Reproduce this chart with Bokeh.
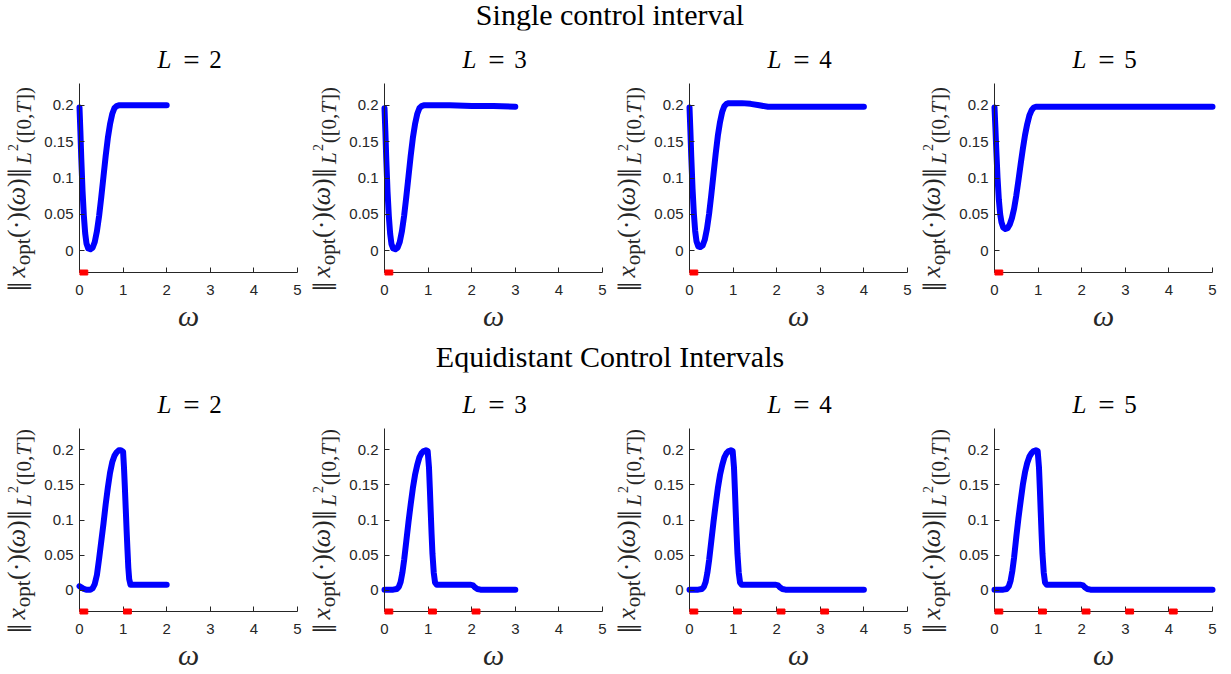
import math
from bokeh.plotting import figure
from bokeh.layouts import column, row
from bokeh.models import Range1d, FixedTicker, Label, Div
from bokeh.embed import file_html
from bokeh.resources import INLINE

# ---------------- data ----------------
L_VALUES = [2, 3, 4, 5]
ROW_TITLES = ["Single control interval", "Equidistant Control Intervals"]
X_TICKS = [0, 1, 2, 3, 4, 5]
Y_TICKS = [0, 0.05, 0.1, 0.15, 0.2]
Y_TICK_LABELS = ["0", "0.05", "0.1", "0.15", "0.2"]

# single control interval
single_w_L2 = [0, 0.02, 0.04, 0.07, 0.1, 0.13, 0.16, 0.2, 0.25, 0.3, 0.35, 0.4, 0.45, 0.5, 0.55,
               0.6, 0.65, 0.7, 0.75, 0.8, 0.85, 0.9, 0.95, 1.0, 1.5, 2.0]
single_v_L2 = [0.197, 0.165, 0.128, 0.082, 0.048, 0.024, 0.010, 0.003, 0.002, 0.004, 0.012, 0.027,
               0.048, 0.074, 0.102, 0.130, 0.155, 0.174, 0.188, 0.196, 0.199, 0.200, 0.200, 0.200,
               0.200, 0.200]
single_w_L3 = [0, 0.02, 0.04, 0.07, 0.1, 0.13, 0.16, 0.2, 0.25, 0.3, 0.35, 0.4, 0.45, 0.5, 0.55,
               0.6, 0.65, 0.7, 0.75, 0.8, 0.85, 0.9, 0.95, 1.0, 1.5, 2.0, 2.5, 3.0]
single_v_L3 = [0.196, 0.164, 0.127, 0.081, 0.047, 0.023, 0.009, 0.003, 0.002, 0.004, 0.012, 0.027,
               0.048, 0.074, 0.102, 0.130, 0.155, 0.174, 0.188, 0.196, 0.199, 0.200, 0.200, 0.200,
               0.200, 0.199, 0.199, 0.198]
single_w_L4 = [0, 0.02, 0.04, 0.07, 0.1, 0.13, 0.16, 0.2, 0.25, 0.3, 0.35, 0.4, 0.45, 0.5, 0.55,
               0.6, 0.65, 0.7, 0.75, 0.8, 0.85, 0.9, 1.0, 1.2, 1.4, 1.6, 1.8, 2.5, 3.0, 3.5, 4.0]
single_v_L4 = [0.197, 0.166, 0.130, 0.085, 0.051, 0.027, 0.013, 0.006, 0.005, 0.007, 0.015, 0.030,
               0.051, 0.077, 0.105, 0.133, 0.158, 0.177, 0.191, 0.199, 0.202, 0.203, 0.203, 0.203,
               0.202, 0.200, 0.198, 0.198, 0.198, 0.198, 0.198]
single_w_L5 = [0, 0.02, 0.04, 0.07, 0.1, 0.13, 0.16, 0.2, 0.25, 0.3, 0.35, 0.4, 0.45, 0.5, 0.55,
               0.6, 0.65, 0.7, 0.75, 0.8, 0.85, 0.9, 0.95, 1.0, 2.0, 3.0, 4.0, 5.0]
single_v_L5 = [0.197, 0.170, 0.140, 0.100, 0.070, 0.050, 0.039, 0.032, 0.030, 0.031, 0.036, 0.045,
               0.058, 0.076, 0.097, 0.119, 0.140, 0.159, 0.174, 0.186, 0.193, 0.197, 0.198, 0.198,
               0.198, 0.198, 0.198, 0.198]

# equidistant control intervals
equi_w_L2 = [0, 0.05, 0.1, 0.15, 0.2, 0.25, 0.3, 0.35, 0.4, 0.45, 0.5, 0.55, 0.6, 0.65, 0.7, 0.75,
             0.8, 0.85, 0.9, 0.95, 1.0, 1.02, 1.04, 1.06, 1.08, 1.1, 1.12, 1.14, 1.17, 1.5, 2.0]
equi_v_L2 = [0.006, 0.004, 0.002, 0.001, 0.001, 0.001, 0.003, 0.009, 0.022, 0.045, 0.070, 0.095,
             0.122, 0.146, 0.167, 0.182, 0.191, 0.196, 0.199, 0.199, 0.197, 0.175, 0.147, 0.117,
             0.086, 0.058, 0.032, 0.016, 0.008, 0.008, 0.008]
equi_w_L3 = [0, 0.1, 0.2, 0.28, 0.33, 0.37, 0.41, 0.45, 0.5, 0.55, 0.6, 0.65, 0.7, 0.75, 0.8, 0.85,
             0.9, 0.95, 0.99, 1.02, 1.04, 1.06, 1.08, 1.1, 1.13, 1.16, 1.2, 1.5, 1.98, 2.03, 2.08,
             2.13, 2.2, 2.5, 3.0]
equi_v_L3 = [0.001, 0.001, 0.001, 0.002, 0.005, 0.012, 0.025, 0.043, 0.070, 0.097, 0.122, 0.145,
             0.164, 0.178, 0.189, 0.195, 0.198, 0.199, 0.198, 0.175, 0.145, 0.112, 0.080, 0.052,
             0.025, 0.011, 0.008, 0.008, 0.008, 0.007, 0.004, 0.002, 0.001, 0.001, 0.001]
equi_w_L4 = [0, 0.1, 0.2, 0.28, 0.33, 0.37, 0.41, 0.45, 0.5, 0.55, 0.6, 0.65, 0.7, 0.75, 0.8, 0.85,
             0.9, 0.95, 0.99, 1.02, 1.04, 1.06, 1.08, 1.1, 1.13, 1.16, 1.2, 1.5, 1.98, 2.03, 2.08,
             2.13, 2.2, 3.0, 4.0]
equi_v_L4 = [0.001, 0.001, 0.001, 0.002, 0.005, 0.012, 0.025, 0.043, 0.070, 0.097, 0.122, 0.145,
             0.164, 0.178, 0.189, 0.195, 0.198, 0.199, 0.198, 0.175, 0.145, 0.112, 0.080, 0.052,
             0.025, 0.011, 0.008, 0.008, 0.008, 0.007, 0.004, 0.002, 0.001, 0.001, 0.001]
equi_w_L5 = [0, 0.1, 0.2, 0.28, 0.33, 0.37, 0.41, 0.45, 0.5, 0.55, 0.6, 0.65, 0.7, 0.75, 0.8, 0.85,
             0.9, 0.95, 0.99, 1.02, 1.04, 1.06, 1.08, 1.1, 1.13, 1.16, 1.2, 1.5, 1.98, 2.03, 2.08,
             2.13, 2.2, 3.0, 4.0, 5.0]
equi_v_L5 = [0.001, 0.001, 0.001, 0.002, 0.006, 0.014, 0.028, 0.047, 0.076, 0.103, 0.127, 0.150,
             0.168, 0.181, 0.190, 0.195, 0.198, 0.199, 0.198, 0.175, 0.145, 0.112, 0.080, 0.052,
             0.025, 0.011, 0.008, 0.008, 0.008, 0.007, 0.004, 0.002, 0.001, 0.001, 0.001, 0.001]

# control-interval markers (centres of the red marks on the axis)
single_marks = [0.1]
equi_marks = [0.1, 1.1, 2.1, 3.1, 4.1]

SINGLE = [(single_w_L2, single_v_L2), (single_w_L3, single_v_L3),
          (single_w_L4, single_v_L4), (single_w_L5, single_v_L5)]
EQUI = [(equi_w_L2, equi_v_L2), (equi_w_L3, equi_v_L3),
        (equi_w_L4, equi_v_L4), (equi_w_L5, equi_v_L5)]

# ---------------- styling / layout ----------------
SERIF = "Liberation Serif"
SANS = "Liberation Sans"
AX = "#262626"
X0, X1 = 0, 5
Y0, Y1 = -0.03, 0.23
FIG_W, FRAME_L, FRAME_W = 305, 79, 218

M, S, P, B = 26, 21, 14, 34
YL_PARTS = [  # text, font px, style, baseline shift (px, + = lower), advance (em)
    ("‖", B, "normal", 3, 0.40),
    ("x", M, "italic", 0, 0.47),
    ("opt", S, "normal", 6, 1.30),
    ("(·)(", M, "normal", 0, 1.26),
    ("ω", M, "italic", 0, 0.70),
    (")", M, "normal", 0, 0.36),
    ("‖", B, "normal", 3, 0.40),
    ("L", S, "italic", 7, 0.62),
    ("2", P, "normal", -4, 0.55),
    ("([0,", S, "normal", 7, 1.42),
    ("T", S, "italic", 7, 0.60),
    ("])", S, "normal", 7, 0.67),
]
YL_BASE_X = -63


def make_panel(w, v, marks, L, fig_h, top, frame_h):
    kx = FRAME_W / (X1 - X0)
    ky = frame_h / (Y1 - Y0)
    bottom = fig_h - top - frame_h
    xr = Range1d(X0 - FRAME_L / kx, X1 + (FIG_W - FRAME_L - FRAME_W) / kx)
    yr = Range1d(Y0 - bottom / ky, Y1 + top / ky)
    p = figure(width=FIG_W, height=fig_h, output_backend="svg", toolbar_location=None,
               x_range=xr, y_range=yr, min_border=0, tools="")
    p.title.visible = False
    p.outline_line_color = None
    p.grid.visible = False
    for ax in (p.xaxis, p.yaxis):
        ax.axis_line_color = AX
        ax.major_tick_line_color = AX
        ax.minor_tick_line_color = None
        ax.major_tick_in = 5
        ax.major_tick_out = 0
        ax.major_label_text_font = SANS
        ax.major_label_text_font_size = "15px"
        ax.major_label_text_color = AX
    p.xaxis.fixed_location = Y0
    p.yaxis.fixed_location = X0
    p.xaxis.bounds = (X0, X1)
    p.yaxis.bounds = (Y0, Y1)
    p.xaxis.ticker = FixedTicker(ticks=X_TICKS)
    p.yaxis.ticker = FixedTicker(ticks=Y_TICKS)
    p.yaxis.major_label_overrides = dict(zip(Y_TICKS, Y_TICK_LABELS))
    p.xaxis.major_label_standoff = 12
    p.yaxis.major_label_standoff = 6

    p.line(w, v, line_width=6, color="#0000FF", line_cap="round", line_join="round")
    p.rect(x=marks, y=[Y0] * len(marks), width=0.18, height=5, height_units="screen",
           color="#FF0000", level="overlay")

    # title  L = n
    for txt, dx, style, f in (("L", -24, "italic", 25), ("=", 3, "normal", 29),
                              (str(L), 27, "normal", 25)):
        p.add_layout(Label(x=2.5, y=Y1, x_offset=dx, y_offset=24, text=txt,
                           text_font=SERIF, text_font_style=style, text_font_size=f"{f}px",
                           text_align="center", text_baseline="alphabetic",
                           text_color="black"))
    # x label
    p.add_layout(Label(x=2.5, y=Y0, y_offset=-43, text="ω", text_font=SERIF,
                       text_font_style="italic", text_font_size="30px", text_align="center",
                       text_baseline="alphabetic", text_color=AX))
    # y label, composed of pieces
    total = sum(sz * em for _, sz, _, _, em in YL_PARTS)
    pos = frame_h / 2 - 11 - total / 2
    for txt, sz, style, shift, em in YL_PARTS:
        p.add_layout(Label(x=X0, y=Y0, x_offset=YL_BASE_X + shift, y_offset=pos, text=txt,
                           angle=math.pi / 2, text_font=SERIF, text_font_style=style,
                           text_font_size=f"{sz}px", text_align="left",
                           text_baseline="alphabetic", text_color=AX))
        pos += sz * em
    return p


top_row = [make_panel(w, v, single_marks, L, 312, 53, 189)
           for (w, v), L in zip(SINGLE, L_VALUES)]
bot_row = [make_panel(w, v, equi_marks[:L], L, 302, 56, 183)
           for (w, v), L in zip(EQUI, L_VALUES)]


def heading(text, h):
    return Div(text=text, width=4 * FIG_W, height=h, margin=(0, 0, 0, 0),
               styles={"font-family": SERIF, "font-size": "30px", "line-height": f"{h}px",
                       "text-align": "center", "color": "black", "white-space": "nowrap"})


layout = column(heading(ROW_TITLES[0], 30), row(*top_row), heading(ROW_TITLES[1], 30),
                row(*bot_row))

with open("out.html", "w") as fh:
    fh.write(file_html(layout, INLINE))
